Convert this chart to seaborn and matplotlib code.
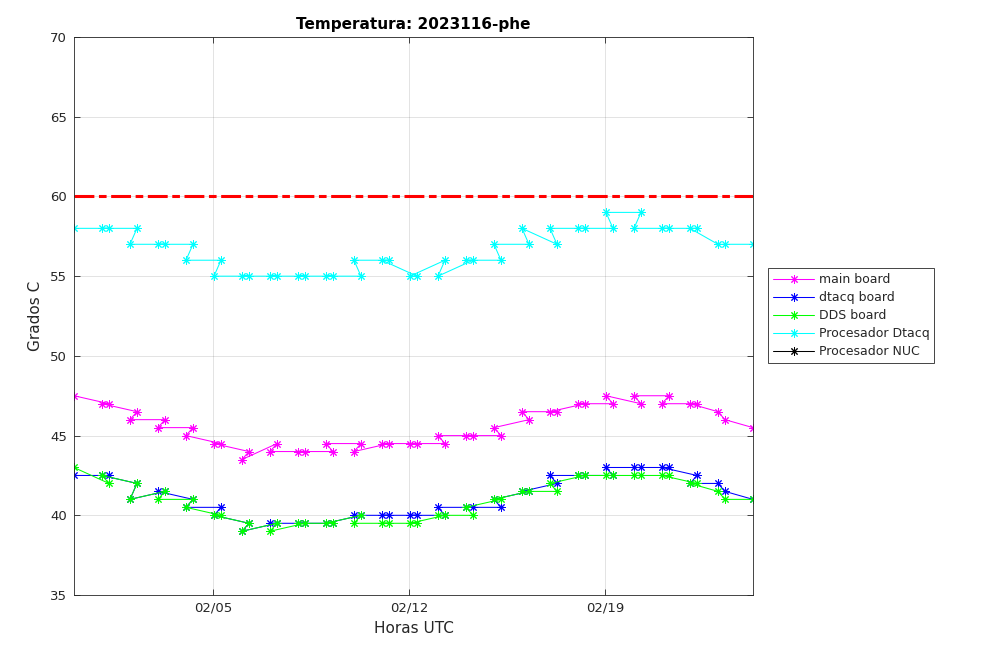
import seaborn as sns
import numpy as np
import matplotlib.pyplot as plt
import matplotlib.dates as mdates
import pandas as pd

# orden de las muestras tal como vienen en los ficheros (cada dia: 06:30 y luego 00:30)
fechas = ["2023-01-31 00:30",
          "2023-02-01 06:30", "2023-02-01 00:30", "2023-02-02 06:30", "2023-02-02 00:30",
          "2023-02-03 06:30", "2023-02-03 00:30", "2023-02-04 06:30", "2023-02-04 00:30",
          "2023-02-05 06:30", "2023-02-05 00:30", "2023-02-06 06:30", "2023-02-06 00:30",
          "2023-02-07 06:30", "2023-02-07 00:30", "2023-02-08 06:30", "2023-02-08 00:30",
          "2023-02-09 06:30", "2023-02-09 00:30", "2023-02-10 06:30", "2023-02-10 00:30",
          "2023-02-11 06:30", "2023-02-11 00:30", "2023-02-12 06:30", "2023-02-12 00:30",
          "2023-02-13 06:30", "2023-02-13 00:30", "2023-02-14 06:30", "2023-02-14 00:30",
          "2023-02-15 06:30", "2023-02-15 00:30", "2023-02-16 06:30", "2023-02-16 00:30",
          "2023-02-17 06:30", "2023-02-17 00:30", "2023-02-18 06:30", "2023-02-18 00:30",
          "2023-02-19 06:30", "2023-02-19 00:30", "2023-02-20 06:30", "2023-02-20 00:30",
          "2023-02-21 06:30", "2023-02-21 00:30", "2023-02-22 06:30", "2023-02-22 00:30",
          "2023-02-23 00:30", "2023-02-23 06:30",
          "2023-02-24 06:30"]

main_board = [47.5,
              47, 47, 46.5, 46, 46, 45.5, 45.5, 45, 44.5, 44.5, 44, 43.5,
              44.5, 44, 44, 44, 44, 44.5, 44.5, 44, 44.5, 44.5, 44.5, 44.5,
              44.5, 45, 45, 45, 45, 45.5, 46, 46.5, 46.5, 46.5, 47, 47,
              47, 47.5, 47, 47.5, 47.5, 47, 47, 47,
              46.5, 46,
              45.5]
dtacq_board = [42.5,
               42.5, 42.5, 42, 41, 41.5, 41.5, 41, 40.5, 40.5, 40, 39.5, 39,
               39.5, 39.5, 39.5, 39.5, 39.5, 39.5, 40, 40, 40, 40, 40, 40,
               40, 40.5, 40.5, 40.5, 40.5, 41, 41.5, 41.5, 42, 42.5, 42.5, 42.5,
               42.5, 43, 43, 43, 43, 43, 42.5, 42,
               42, 41.5,
               41]
dds_board = [43,
             42, 42.5, 42, 41, 41.5, 41, 41, 40.5, 40, 40, 39.5, 39,
             39.5, 39, 39.5, 39.5, 39.5, 39.5, 40, 39.5, 39.5, 39.5, 39.5, 39.5,
             40, 40, 40, 40.5, 41, 41, 41.5, 41.5, 41.5, 42, 42.5, 42.5,
             42.5, 42.5, 42.5, 42.5, 42.5, 42.5, 42, 42,
             41.5, 41,
             41]
proc_dtacq = [58,
              58, 58, 58, 57, 57, 57, 57, 56, 56, 55, 55, 55,
              55, 55, 55, 55, 55, 55, 55, 56, 56, 56, 55, 55,
              56, 55, 56, 56, 56, 57, 57, 58, 57, 58, 58, 58,
              58, 59, 59, 58, 58, 58, 58, 58,
              57, 57,
              57]
proc_nuc = []  # sin datos del NUC
limite = 60

sns.set_style("ticks")
plt.rcParams['font.family'] = ['DejaVu Sans']

t = pd.to_datetime(fechas)
gris = (0.15, 0.15, 0.15)
asterisco = (8, 2, 0)

fig = plt.figure(figsize=(10.08, 6.61), dpi=100)
ax = fig.add_axes([0.0734, 0.0998, 0.6736, 0.8442])

series = [("main board", main_board, (1, 0, 1)),
          ("dtacq board", dtacq_board, (0, 0, 1)),
          ("DDS board", dds_board, (0, 1, 0)),
          ("Procesador Dtacq", proc_dtacq, (0, 1, 1))]
for nombre, vals, col in series:
    sns.lineplot(x=t, y=vals, sort=False, estimator=None, color=col,
                 marker=asterisco, markersize=6, markeredgewidth=0.7,
                 markeredgecolor=col, markerfacecolor=col,
                 linewidth=0.75, label=nombre, ax=ax, legend=False)
ax.plot(pd.to_datetime(proc_nuc), proc_nuc, color="k", marker=asterisco,
        markersize=6, markeredgewidth=0.7, linewidth=0.75, label="Procesador NUC")

ax.axhline(limite, color=(1, 0, 0), linewidth=2.2, linestyle=(0, (6.5, 1.5, 2.5, 1.5)))

ax.set_xlim(t.min(), t.max())
ax.set_ylim(35, 70)
ax.set_yticks(np.arange(35, 71, 5))
ax.set_xticks(pd.to_datetime(["2023-02-05", "2023-02-12", "2023-02-19"]))
ax.xaxis.set_major_formatter(mdates.DateFormatter("%m/%d"))

ax.grid(True, color=gris, alpha=0.15, linewidth=0.6)
ax.tick_params(direction="in", top=True, right=True, length=4, width=0.6,
               labelsize=9.5, colors=gris, pad=5)
for s in ax.spines.values():
    s.set_visible(True)
    s.set_color(gris)
    s.set_linewidth(0.6)

ax.set_xlabel("Horas UTC", fontsize=11, color=gris, labelpad=4)
ax.set_ylabel("Grados C", fontsize=11, color=gris, labelpad=5)
ax.set_title("Temperatura: 2023116-phe", fontsize=11, fontweight="bold",
             color="k", pad=6)

leg = ax.legend(loc="center left", bbox_to_anchor=(0.762, 0.522),
                bbox_transform=fig.transFigure, fontsize=9, frameon=True,
                fancybox=False, edgecolor=gris, framealpha=1,
                handlelength=3.3, handletextpad=0.35, labelspacing=0.4,
                borderpad=0.4, borderaxespad=0)
leg.get_frame().set_linewidth(0.6)

fig.savefig("out.png", dpi=100)
